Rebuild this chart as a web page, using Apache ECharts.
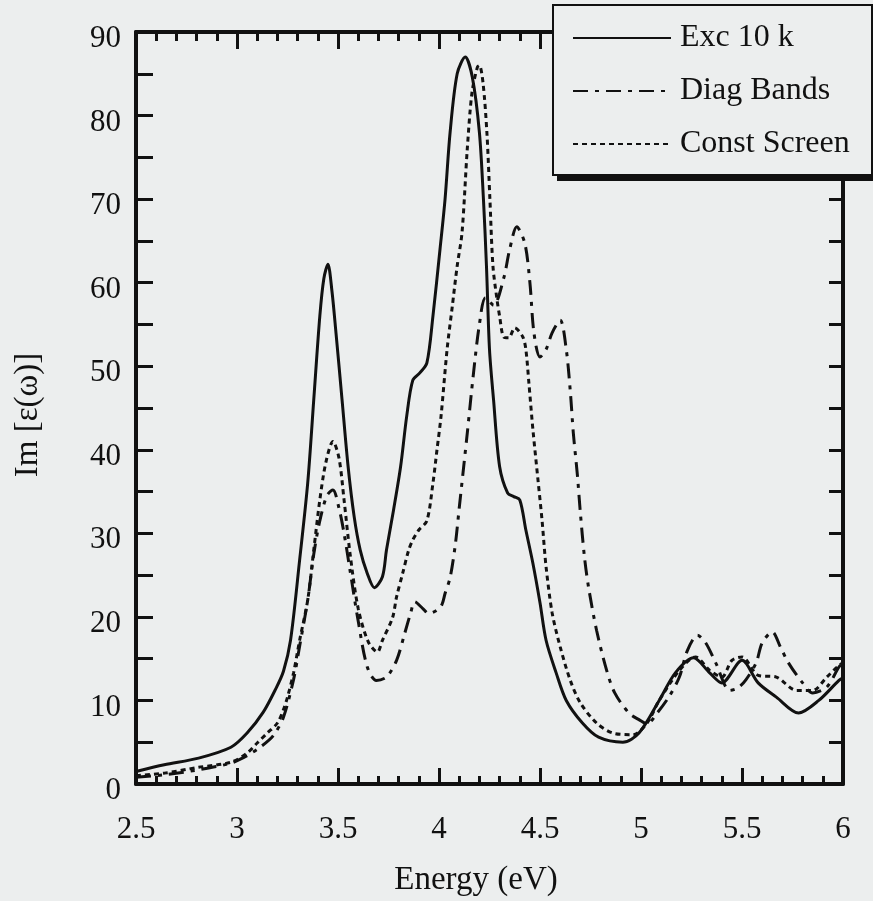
<!DOCTYPE html>
<html>
<head>
<meta charset="utf-8">
<script src="https://cdn.jsdelivr.net/npm/echarts@6/dist/echarts.min.js"></script>
<style>
  html, body { margin: 0; padding: 0; background: #eceeee; }
  #chart { width: 873px; height: 901px; }
</style>
</head>
<body>
<div id="chart"></div>
<script>
// ---- data ----
const seriesNames = ['Exc 10 k', 'Diag Bands', 'Const Screen'];
const xTicks = [2.5, 3, 3.5, 4, 4.5, 5, 5.5, 6];
const yTicks = [0, 10, 20, 30, 40, 50, 60, 70, 80, 90];

const energyExc = [2.5, 2.64, 2.81, 2.97, 3.05, 3.13, 3.19, 3.23, 3.265, 3.31, 3.35, 3.38, 3.41, 3.43, 3.45, 3.47, 3.49, 3.52, 3.55, 3.58, 3.61, 3.645, 3.68, 3.72, 3.74, 3.775, 3.81, 3.84, 3.87, 3.905, 3.94, 3.97, 4.005, 4.03, 4.055, 4.09, 4.13, 4.165, 4.2, 4.22, 4.235, 4.25, 4.27, 4.3, 4.34, 4.37, 4.4, 4.43, 4.465, 4.5, 4.53, 4.58, 4.63, 4.71, 4.79, 4.91, 4.99, 5.09, 5.17, 5.26, 5.34, 5.4, 5.5, 5.58, 5.67, 5.78, 5.88, 5.98, 6.0];
const valuesExc = [1.5, 2.3, 3.1, 4.4, 6.1, 8.6, 11.3, 13.5, 17.2, 26.8, 36, 46, 56, 60.5, 62.2, 59, 54, 46, 38, 32, 28, 25.2, 23.5, 24.8, 28, 32.8, 38, 44, 48.3, 49.2, 50.4, 56, 64, 70, 78, 85, 87, 84.6, 78, 70, 62, 52, 46, 38, 34.8, 34.4, 34, 30.4, 26.4, 21.7, 17.2, 13.3, 10, 7.3, 5.6, 5.0, 6.1, 10, 13.3, 15.1, 13.3, 12.1, 14.8, 12.1, 10.4, 8.5, 10, 12.4, 12.7];

const energyDiag = [2.5, 2.64, 2.81, 2.97, 3.05, 3.12, 3.18, 3.23, 3.28, 3.31, 3.35, 3.38, 3.41, 3.445, 3.475, 3.505, 3.53, 3.56, 3.6, 3.645, 3.69, 3.74, 3.79, 3.83, 3.86, 3.88, 3.92, 3.95, 3.99, 4.015, 4.03, 4.055, 4.08, 4.1, 4.14, 4.17, 4.2, 4.23, 4.27, 4.32, 4.35, 4.385, 4.425, 4.45, 4.47, 4.5, 4.53, 4.56, 4.6, 4.63, 4.65, 4.665, 4.685, 4.7, 4.72, 4.74, 4.78, 4.83, 4.87, 4.94, 4.99, 5.03, 5.08, 5.14, 5.19, 5.23, 5.28, 5.32, 5.37, 5.44, 5.48, 5.52, 5.57, 5.6, 5.65, 5.69, 5.73, 5.8, 5.85, 5.92, 5.98, 6.0];
const valuesDiag = [0.8, 1.1, 1.7, 2.5, 3.4, 4.5, 5.8, 8, 12.5, 16.5, 22, 27.5, 31.5, 34.5, 35.2, 33, 30, 25.5, 19.5, 14, 12.4, 12.8, 14.8, 18, 20.5, 21.8, 21, 20.4, 20.8, 21.5, 22.8, 24.7, 28.5, 33, 42, 49, 55, 58.2, 57.3, 60.5, 64, 66.7, 64.7, 60, 54, 51.1, 52, 54, 55.5, 52, 47, 42, 37, 32.4, 27.2, 23.6, 18.4, 13.6, 10.9, 8.5, 7.7, 7.2, 8.5, 10.5, 12.8, 16, 17.8, 16.9, 14.5, 11.2, 11.5, 12.5, 14.5, 16.9, 18.2, 16.4, 14.5, 12.1, 10.9, 11.6, 14, 14.5];

const energyConst = [2.5, 2.64, 2.81, 2.97, 3.05, 3.1, 3.15, 3.2, 3.23, 3.25, 3.28, 3.31, 3.35, 3.38, 3.41, 3.44, 3.475, 3.505, 3.53, 3.56, 3.6, 3.65, 3.695, 3.72, 3.77, 3.79, 3.82, 3.85, 3.87, 3.9, 3.94, 3.97, 3.99, 4.01, 4.04, 4.065, 4.09, 4.114, 4.14, 4.163, 4.19, 4.2, 4.218, 4.237, 4.252, 4.267, 4.287, 4.3, 4.32, 4.345, 4.375, 4.415, 4.43, 4.445, 4.465, 4.49, 4.51, 4.53, 4.56, 4.6, 4.65, 4.7, 4.78, 4.86, 4.96, 5.03, 5.09, 5.19, 5.27, 5.34, 5.4, 5.45, 5.5, 5.58, 5.67, 5.77, 5.85, 5.92, 5.98, 6.0];
const valuesConst = [1.0, 1.3, 2.0, 2.6, 3.7, 4.9, 6.1, 7.3, 8.9, 10.4, 13.3, 17.2, 22, 28, 34, 38.5, 41, 39, 34, 27.5, 21, 17, 15.8, 17.2, 19.9, 22.4, 25.2, 28, 29.2, 30.4, 31.5, 36, 40, 44, 52, 57, 62, 66, 76, 82.7, 85.8, 86, 83.9, 78, 70, 62, 58, 56, 53.5, 53.4, 54.6, 53.5, 52, 48, 42.4, 36.4, 31.6, 26, 20.5, 16.4, 12.4, 9.7, 7.3, 6.1, 5.9, 7.3, 10, 13.6, 15.2, 13.6, 12.8, 14.8, 15.2, 13, 12.8, 11.2, 11.2, 12.8, 14.2, 14.5];

// ---- chart ----
const zip = (xs, ys) => xs.map((x, i) => [x, ys[i]]);
const FONT = "'Liberation Serif', 'Times New Roman', serif";
const INK = '#111111';
const BG = '#eceeee';

const chart = echarts.init(document.getElementById('chart'), null, { renderer: 'canvas' });

const xCommon = {
  type: 'value', min: 2.5, max: 6, interval: 0.5,
  axisLine: { show: true, onZero: false, lineStyle: { color: INK, width: 4 } },
  splitLine: { show: false },
  minorSplitLine: { show: false }
};
const yCommon = {
  type: 'value', min: 0, max: 90, interval: 10,
  axisLine: { show: true, onZero: false, lineStyle: { color: INK, width: 4 } },
  splitLine: { show: false },
  minorSplitLine: { show: false }
};

const lineSeries = (name, xs, ys, dash) => ({
  name, type: 'line', xAxisIndex: 0, yAxisIndex: 0,
  symbol: 'none', showSymbol: false, smooth: 0.3,
  data: zip(xs, ys),
  lineStyle: { color: INK, width: 3, type: dash },
  itemStyle: { color: INK }
});

chart.setOption({
  animation: false,
  backgroundColor: BG,
  grid: { left: 136, right: 30, top: 32, bottom: 117, containLabel: false },
  xAxis: [
    Object.assign({}, xCommon, {
      position: 'bottom',
      axisTick: { show: true, inside: true, length: 16, lineStyle: { color: INK, width: 3 } },
      minorTick: { show: true, splitNumber: 5, length: 8, lineStyle: { color: INK, width: 3 } },
      axisLabel: { show: true, margin: 30, color: INK, fontSize: 31, fontFamily: FONT,
        formatter: v => String(xTicks.find(t => Math.abs(t - v) < 1e-6) ?? v) }
    }),
    Object.assign({}, xCommon, {
      position: 'top',
      axisTick: { show: true, inside: true, length: 17, lineStyle: { color: INK, width: 3 } },
      minorTick: { show: true, splitNumber: 5, length: 9, lineStyle: { color: INK, width: 3 } },
      axisLabel: { show: false }
    })
  ],
  yAxis: [
    Object.assign({}, yCommon, {
      position: 'left',
      axisTick: { show: true, inside: true, length: 17, lineStyle: { color: INK, width: 3 } },
      minorTick: { show: true, splitNumber: 2, length: 17, lineStyle: { color: INK, width: 3 } },
      axisLabel: { show: true, margin: 15, color: INK, fontSize: 31, fontFamily: FONT,
        formatter: v => '{v|' + String(yTicks.find(t => t === v) ?? v) + '}',
        rich: { v: { fontSize: 31, fontFamily: FONT, color: INK, padding: [14, 0, 0, 0] } } }
    }),
    Object.assign({}, yCommon, {
      position: 'right',
      axisTick: { show: true, inside: true, length: 14, lineStyle: { color: INK, width: 3 } },
      minorTick: { show: true, splitNumber: 2, length: 14, lineStyle: { color: INK, width: 3 } },
      axisLabel: { show: false }
    })
  ],
  legend: {
    data: seriesNames,
    orient: 'vertical',
    left: 553, top: 5,
    padding: [17, 20, 16, 19],
    itemWidth: 98, itemHeight: 14, itemGap: 21,
    itemStyle: { opacity: 0 },
    textStyle: { fontSize: 32, fontFamily: FONT, color: INK, lineHeight: 32, padding: [0, 0, 0, 4] },
    backgroundColor: 'transparent',
    borderWidth: 0,
    selectedMode: false,
    z: 20
  },
  graphic: [
    { type: 'rect', z: 10, silent: true,
      shape: { x: 557, y: 11, width: 320, height: 170 },
      style: { fill: INK } },
    { type: 'rect', z: 11, silent: true,
      shape: { x: 553, y: 5, width: 319, height: 170 },
      style: { fill: BG, stroke: INK, lineWidth: 2 } },
    { type: 'text', z: 30, x: 476, y: 880,
      style: { text: 'Energy (eV)', font: `33px ${FONT}`, fill: INK,
               textAlign: 'center', textVerticalAlign: 'middle' } },
    { type: 'text', z: 30, rotation: Math.PI / 2,
      x: 28, y: 415,
      style: { text: 'Im [ε(ω)]', font: `33px ${FONT}`, fill: INK,
               textAlign: 'center', textVerticalAlign: 'middle' } }
  ],
  series: [
    lineSeries(seriesNames[0], energyExc, valuesExc, 'solid'),
    lineSeries(seriesNames[1], energyDiag, valuesDiag, [15, 7, 4, 7]),
    lineSeries(seriesNames[2], energyConst, valuesConst, [5, 4])
  ]
});
</script>
</body>
</html>
